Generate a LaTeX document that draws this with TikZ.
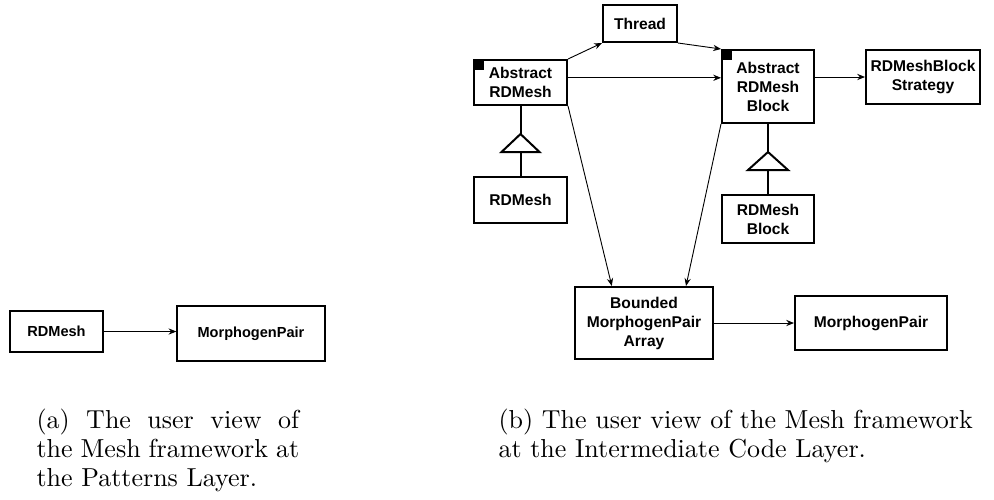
\documentclass[tikz,border=0pt]{standalone}
\usepackage{fontspec}
\newfontfamily\boxfont{Liberation Sans}
\usetikzlibrary{arrows.meta,calc}
\tikzset{
  cls/.style={draw, line width=0.77pt, inner sep=0pt, align=center,
    font=\boxfont\bfseries\fontsize{6}{7.3}\selectfont},
  clsa/.style={cls, line width=0.5pt,
    font=\boxfont\bfseries\fontsize{5.6}{6.8}\selectfont},
  dim/.style 2 args={minimum width={#1*0.3846pt}, minimum height={#2*0.3846pt}},
  assoc/.style={line width=0.35pt, -{Stealth[length=3pt,width=2.4pt,inset=1pt]}},
  inh/.style={line width=0.77pt},
  tri/.style={line width=0.77pt, fill=white},
  marker/.style={fill=black},
  caption/.style={anchor=base west, inner sep=0pt}
}
\begin{document}
\begin{tikzpicture}[x=0.3846pt, y=-0.3846pt]
\useasboundingbox (0,0) rectangle (994,499);

% (a) patterns layer
\node[clsa, dim={93}{41}] (rdA) at (56.5,331.5) {RDMesh};
\node[clsa, dim={148}{55}] (mpA) at (251,333.5) {MorphogenPair};
\draw[assoc] (rdA.east) -- (rdA.east -| mpA.west);

% (b) intermediate code layer: classes
\node[cls, dim={74}{37}] (thr) at (640,23.5) {Thread};
\node[cls, dim={93}{45}] (absM) at (520.5,82.5) {Abstract\\RDMesh};
\node[cls, dim={93}{46}] (rdB) at (520.5,200) {RDMesh};
\node[cls, dim={92}{73}] (absB) at (768,86.5) {Abstract\\RDMesh\\Block};
\node[cls, dim={114}{54}] (strat) at (923,77) {RDMeshBlock\\Strategy};
\node[cls, dim={92}{48}] (rdBl) at (768,219) {RDMesh\\Block};
\node[cls, dim={138}{72}] (bnd) at (644,323) {Bounded\\MorphogenPair\\Array};
\node[cls, dim={152}{54}] (mpB) at (871,323) {MorphogenPair};

% abstract-class markers
\fill[marker] (absM.north west) rectangle ++(11,11);
\fill[marker] (absB.north west) rectangle ++(11,11);

% associations
\draw[assoc] (absM.north east) -- (thr.south west);
\draw[assoc] (thr.south east) -- (absB.north west);
\coordinate (hA) at ($(absM.north east)!0.4!(absM.south east)$);
\draw[assoc] (hA) -- (hA -| absB.west);
\draw[assoc] (strat.west -| absB.east) -- (strat.west);
\draw[assoc] (absM.south east) -- ($(bnd.north west)!0.27!(bnd.north east)$);
\draw[assoc] (absB.south west) -- ($(bnd.north west)!0.8!(bnd.north east)$);
\draw[assoc] (bnd.east |- mpB.west) -- (mpB.west);

% inheritance
\coordinate (tA) at ($(absM.south)+(0,28)$);
\draw[inh] (absM.south) -- (tA);
\draw[tri] (tA) -- ++(-19,18) -- ++(38,0) -- cycle;
\draw[inh] ($(tA)+(0,18)$) -- (rdB.north);

\coordinate (tB) at ($(absB.south)+(0,28)$);
\draw[inh] (absB.south) -- (tB);
\draw[tri] (tB) -- ++(-20,18) -- ++(40,0) -- cycle;
\draw[inh] ($(tB)+(0,18)$) -- (rdBl.north);

% captions
\node[caption] (capa) at (36,428)
  {\parbox[t]{101pt}{\baselineskip=11.2pt (a) The user view of\linebreak the Mesh framework at\linebreak the Patterns Layer.}};
\node[caption] (capb) at (498,428)
  {\parbox[t]{200pt}{\baselineskip=11.2pt (b) The user view of the Mesh framework\\at the Intermediate Code Layer.}};
\end{tikzpicture}
\end{document}
